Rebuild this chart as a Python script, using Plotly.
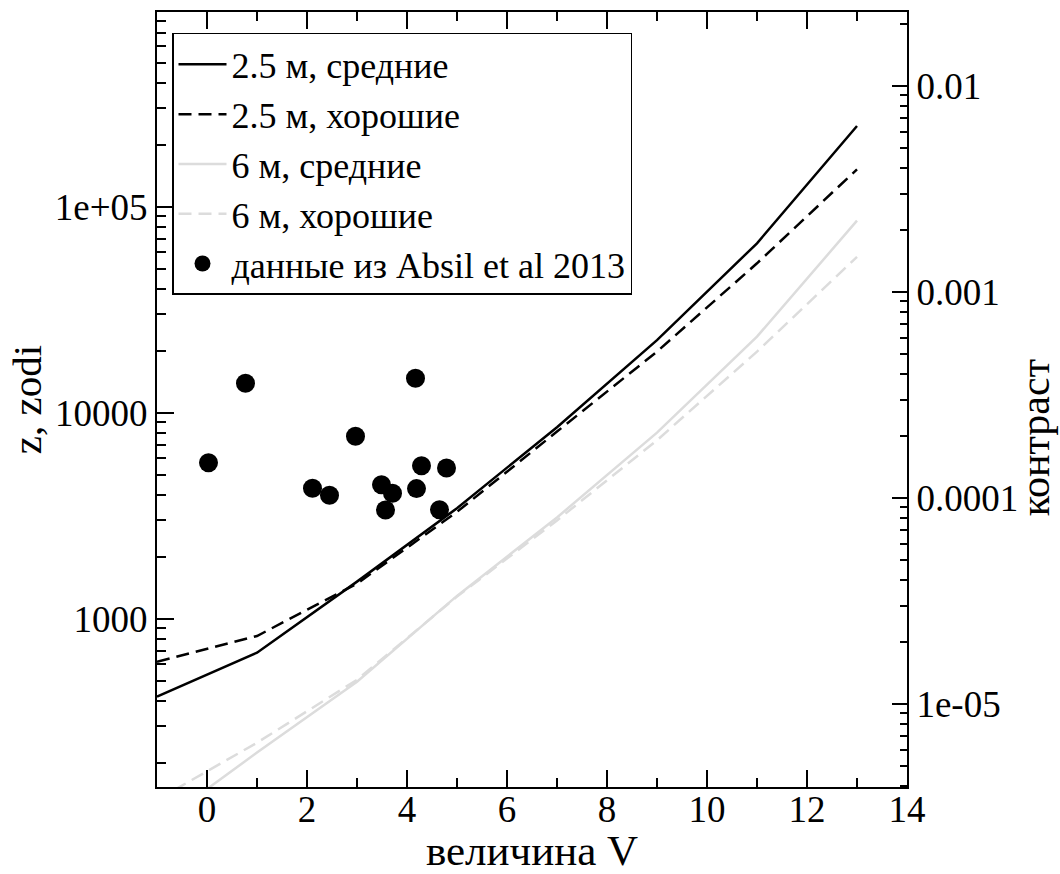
import plotly.graph_objects as go

# ---- data ----
V_grid = [-1, 1, 3, 5, 7, 9, 11, 13]
z_25_avg = [418, 684, 1513, 3440, 8500, 22500, 66400, 246500]
z_25_good = [618, 824, 1480, 3300, 8100, 19800, 53100, 151800]
z_6_avg = [99, 224, 494, 1290, 3100, 8000, 23400, 85500]
z_6_good = [132, 250, 505, 1280, 3000, 7350, 19800, 57100]

absil_V = [0.03, 0.77, 2.11, 2.45, 2.97, 3.49, 3.57, 3.71, 4.17, 4.19, 4.29, 4.65, 4.79]
absil_z = [5720, 13900, 4300, 3970, 7680, 4470, 3370, 4060, 14700, 4280, 5530, 3380, 5390]

names = ["2.5 м, средние", "2.5 м, хорошие", "6 м, средние", "6 м, хорошие",
         "данные из Absil et al 2013"]

left_tickvals = [1000, 10000, 100000]
left_ticktext = ["1000", "10000", "1e+05"]
right_tickvals = [1e-5, 1e-4, 1e-3, 1e-2]
right_ticktext = ["1e-05", "0.0001", "0.001", "0.01"]

x_title = "величина V"
y_title = "z, zodi"
y2_title = "контраст"

x_range = [-1, 14]
y_log_range = [2.183, 5.945]
contrast_offset = -7.586  # log10(contrast) = log10(z) + offset

FONT = "Liberation Serif, Times New Roman, Times, serif"
BLACK = "black"
GRAY = "#dcdcdc"

fig = go.Figure()
fig.add_trace(go.Scatter(x=V_grid, y=z_25_avg, mode="lines", name=names[0],
                         line=dict(color=BLACK, width=2.5)))
fig.add_trace(go.Scatter(x=V_grid, y=z_25_good, mode="lines", name=names[1],
                         line=dict(color=BLACK, width=2.5, dash="13px,7px")))
fig.add_trace(go.Scatter(x=V_grid, y=z_6_avg, mode="lines", name=names[2],
                         line=dict(color=GRAY, width=2.5)))
fig.add_trace(go.Scatter(x=V_grid, y=z_6_good, mode="lines", name=names[3],
                         line=dict(color=GRAY, width=2.5, dash="13px,7px")))
fig.add_trace(go.Scatter(x=absil_V, y=absil_z, mode="markers", name=names[4],
                         marker=dict(color=BLACK, size=19, symbol="circle")))

def minor_vals(lo, hi):
    vals = []
    for k in range(lo, hi):
        for m in range(2, 10):
            vals.append(m * 10 ** k)
    return vals

tick_font = dict(family=FONT, size=37, color=BLACK)

fig.update_layout(
    width=1060, height=874,
    margin=dict(l=157, r=153, t=12, b=87, autoexpand=False),
    paper_bgcolor="white", plot_bgcolor="white",
    font=dict(family=FONT, color=BLACK),
    showlegend=True,
    legend=dict(x=0.02, y=0.973, xanchor="left", yanchor="top",
                bgcolor="white", bordercolor=BLACK, borderwidth=1.5,
                font=dict(family=FONT, size=36, color=BLACK),
                tracegroupgap=0, itemwidth=48),
    xaxis=dict(range=x_range, showgrid=False, zeroline=False, automargin=False,
               showline=True, linecolor=BLACK, linewidth=2, mirror="ticks",
               ticks="inside", ticklen=17, tickwidth=1.5, tickcolor=BLACK,
               tickmode="linear", tick0=0, dtick=2, ticklabelstandoff=-11,
               minor=dict(ticks="inside", ticklen=9, tickwidth=1.5, tickcolor=BLACK,
                          tickmode="linear", tick0=0, dtick=1, showgrid=False),
               tickfont=tick_font,
               title=dict(text=x_title, font=dict(family=FONT, size=43, color=BLACK),
                          standoff=2)),
    yaxis=dict(type="log", range=y_log_range, showgrid=False, zeroline=False,
               automargin=False,
               showline=True, linecolor=BLACK, linewidth=2,
               ticks="inside", ticklen=17, tickwidth=1.5, tickcolor=BLACK,
               tickmode="array", tickvals=left_tickvals, ticktext=left_ticktext,
               minor=dict(ticks="inside", ticklen=9, tickwidth=1.5, tickcolor=BLACK,
                          tickmode="array", tickvals=minor_vals(2, 6), showgrid=False),
               tickfont=tick_font,
               title=dict(text=y_title, font=dict(family=FONT, size=41, color=BLACK),
                          standoff=0)),
    yaxis2=dict(type="log", overlaying="y", side="right", anchor="x",
                automargin=False,
                range=[y_log_range[0] + contrast_offset, y_log_range[1] + contrast_offset],
                showgrid=False, zeroline=False,
                showline=True, linecolor=BLACK, linewidth=2,
                ticks="inside", ticklen=15, tickwidth=1.5, tickcolor=BLACK,
                tickmode="array", tickvals=right_tickvals, ticktext=right_ticktext,
                minor=dict(ticks="inside", ticklen=7, tickwidth=1.5, tickcolor=BLACK,
                           tickmode="array", tickvals=minor_vals(-6, -1), showgrid=False),
                tickfont=tick_font),
)

fig.add_annotation(text=y2_title, xref="paper", yref="paper", x=1.171, y=0.4503,
                   xanchor="center", yanchor="middle", textangle=-90, showarrow=False,
                   font=dict(family=FONT, size=42, color=BLACK))

# invisible helper trace to activate the right-hand (contrast) axis
fig.add_trace(go.Scatter(x=[V_grid[0]], y=[z_25_avg[0] * 10 ** contrast_offset],
                         yaxis="y2", mode="markers", showlegend=False,
                         hoverinfo="skip", marker=dict(opacity=0)))

fig.write_html("out.html")
